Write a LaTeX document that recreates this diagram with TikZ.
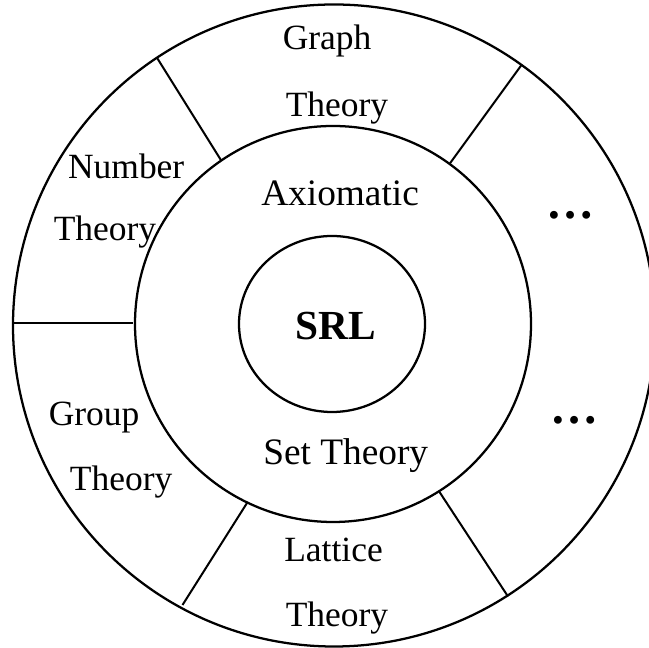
\documentclass[tikz,border=0pt]{standalone}
\usepackage{fontspec}
\setmainfont{Liberation Serif}
\usetikzlibrary{shapes.geometric}
\begin{document}
\begin{tikzpicture}[x=0.75pt,y=0.75pt,
  ring/.style={draw, line width=1.7pt, inner sep=0pt},
  divider/.style={line width=1.5pt},
  thinline/.style={line width=0.9pt},
  lbl/.style={anchor=base west, inner sep=0pt, font=\fontsize{26.6}{30}\selectfont},
  innerlbl/.style={anchor=base west, inner sep=0pt, font=\fontsize{28}{32}\selectfont},
  corelbl/.style={anchor=base west, inner sep=0pt, font=\fontsize{31}{35}\selectfont\bfseries},
  dotslbl/.style={anchor=base, inner sep=0pt, font=\fontsize{36}{40}\selectfont\bfseries}]
\useasboundingbox (0,0) rectangle (649,648);
\fill[white] (0,0) rectangle (649,648);
\clip (0,0) rectangle (649,648);
% rings
\node[circle, ring, minimum size=481.5pt] (outer) at (334,322.5) {};
\node[circle, ring, minimum size=297pt] (middle) at (333,324) {};
\node[ellipse, ring, minimum width=139.5pt, minimum height=132pt] (core) at (332,324) {};
% divider end points
\coordinate (m1) at (221.5,487);
\coordinate (o1) at (156.7,590.7);
\coordinate (m2) at (450,484.7);
\coordinate (o2) at (521.5,583);
\coordinate (m3) at (133,325);
\coordinate (o3) at (13,325);
\coordinate (m4) at (247.2,145.3);
\coordinate (o4) at (182.5,43);
\coordinate (m5) at (439.5,156);
\coordinate (o5) at (508,51.5);
\draw[divider] (m1) -- (o1);
\draw[divider] (m2) -- (o2);
\draw[thinline] (m3) -- (o3);
\draw[divider] (m4) -- (o4);
\draw[divider] (m5) -- (o5);
% labels
\node[lbl] (graph1) at (282.5,598) {Graph};
\node[lbl] (graph2) at (285.5,531.5) {Theory};
\node[lbl] (num1) at (67.8,469) {Number};
\node[lbl] (num2) at (53.5,407.5) {Theory};
\node[innerlbl] (axiom) at (261,442) {Axiomatic};
\node[corelbl] (srl) at (295.5,308) {SRL};
\node[innerlbl] (set) at (263,183) {Set Theory};
\node[lbl] (group1) at (48.5,222.5) {Group};
\node[lbl] (group2) at (69.6,157.5) {Theory};
\node[lbl] (lat1) at (284,86.3) {Lattice};
\node[lbl] (lat2) at (285.5,21.2) {Theory};
\node[dotslbl] (dotsup) at (570,429) {…};
\node[dotslbl] (dotsdown) at (574,224) {…};
\end{tikzpicture}
\end{document}
